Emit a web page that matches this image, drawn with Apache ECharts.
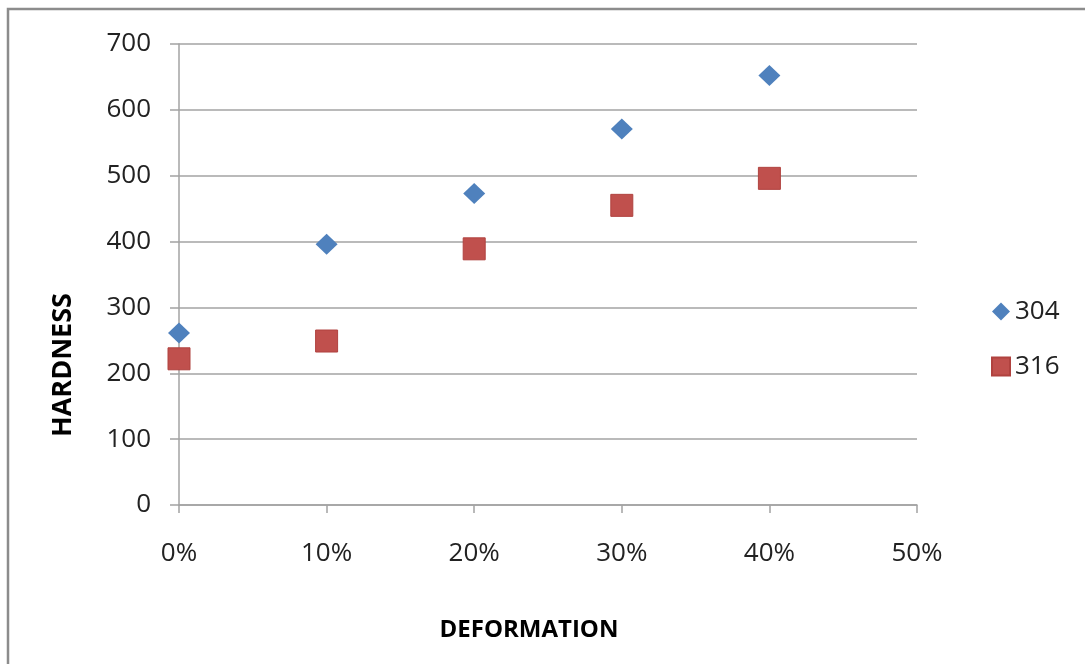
<!DOCTYPE html>
<html>
<head>
<meta charset="utf-8">
<script src="https://cdn.jsdelivr.net/npm/echarts@6/dist/echarts.min.js"></script>
<style>
html,body{margin:0;padding:0;background:#fff;}
#chart{width:1085px;height:664px;}
</style>
</head>
<body>
<div id="chart"></div>
<script>
const deformation = [0, 10, 20, 30, 40];
const hardness304 = [261, 396, 473, 571, 652];
const hardness316 = [222, 249, 389, 455, 496];
const seriesNames = ['304', '316'];
const xTitle = 'DEFORMATION';
const yTitle = 'HARDNESS';

const chart = echarts.init(document.getElementById('chart'));
const font = 'Open Sans';
const gridColor = '#a3a3a3';

chart.setOption({
  animation: false,
  backgroundColor: '#fff',
  grid: { left: 179, top: 44, right: 168, bottom: 159, containLabel: false },
  xAxis: {
    type: 'value', min: 0, max: 50, interval: 10,
    axisLine: { show: true, onZero: false, lineStyle: { color: gridColor, width: 1.5 } },
    axisTick: { show: true, length: 8, inside: false, lineStyle: { color: gridColor, width: 1.5 } },
    splitLine: { show: false },
    axisLabel: { formatter: '{value}%', fontFamily: font, fontSize: 26, color: '#222', margin: 36 }
  },
  yAxis: {
    type: 'value', min: 0, max: 700, interval: 100,
    axisLine: { show: true, lineStyle: { color: gridColor, width: 1.5 } },
    axisTick: { show: true, length: 9, lineStyle: { color: gridColor, width: 1.5 } },
    splitLine: { show: true, lineStyle: { color: gridColor, width: 1.5 } },
    axisLabel: { fontFamily: font, fontSize: 26, color: '#222', margin: 28 }
  },
  legend: {
    orient: 'vertical', left: 991, top: 298, padding: 0,
    itemWidth: 18, itemHeight: 18, itemGap: 28,
    textStyle: { fontFamily: font, fontSize: 26, color: '#222', lineHeight: 27 },
    data: [{ name: seriesNames[0], icon: 'diamond' }, { name: seriesNames[1], icon: 'rect' }]
  },
  graphic: [
    { type: 'rect', silent: true, shape: { x: 8, y: 9, width: 1200, height: 800 },
      style: { fill: 'none', stroke: '#8c8c8c', lineWidth: 2.5 } },
    { type: 'text', x: 63, y: 365, rotation: Math.PI / 2,
      style: { text: yTitle, fontFamily: font, fontWeight: 'bold', fontSize: 27, fill: '#000', align: 'center', verticalAlign: 'middle' } },
    { type: 'text', x: 529, y: 630,
      style: { text: xTitle, fontFamily: font, fontWeight: 'bold', fontSize: 24, fill: '#000', align: 'center', verticalAlign: 'middle' } }
  ],
  series: [
    { name: seriesNames[0], type: 'scatter', symbol: 'diamond', symbolSize: [22, 21],
      itemStyle: { color: '#4F81BD', opacity: 1 },
      data: deformation.map((d, i) => [d, hardness304[i]]) },
    { name: seriesNames[1], type: 'scatter', symbol: 'rect', symbolSize: 22,
      itemStyle: { color: '#C0504D', borderColor: '#B0423F', borderWidth: 1, opacity: 1 },
      data: deformation.map((d, i) => [d, hardness316[i]]) }
  ]
});
</script>
</body>
</html>
